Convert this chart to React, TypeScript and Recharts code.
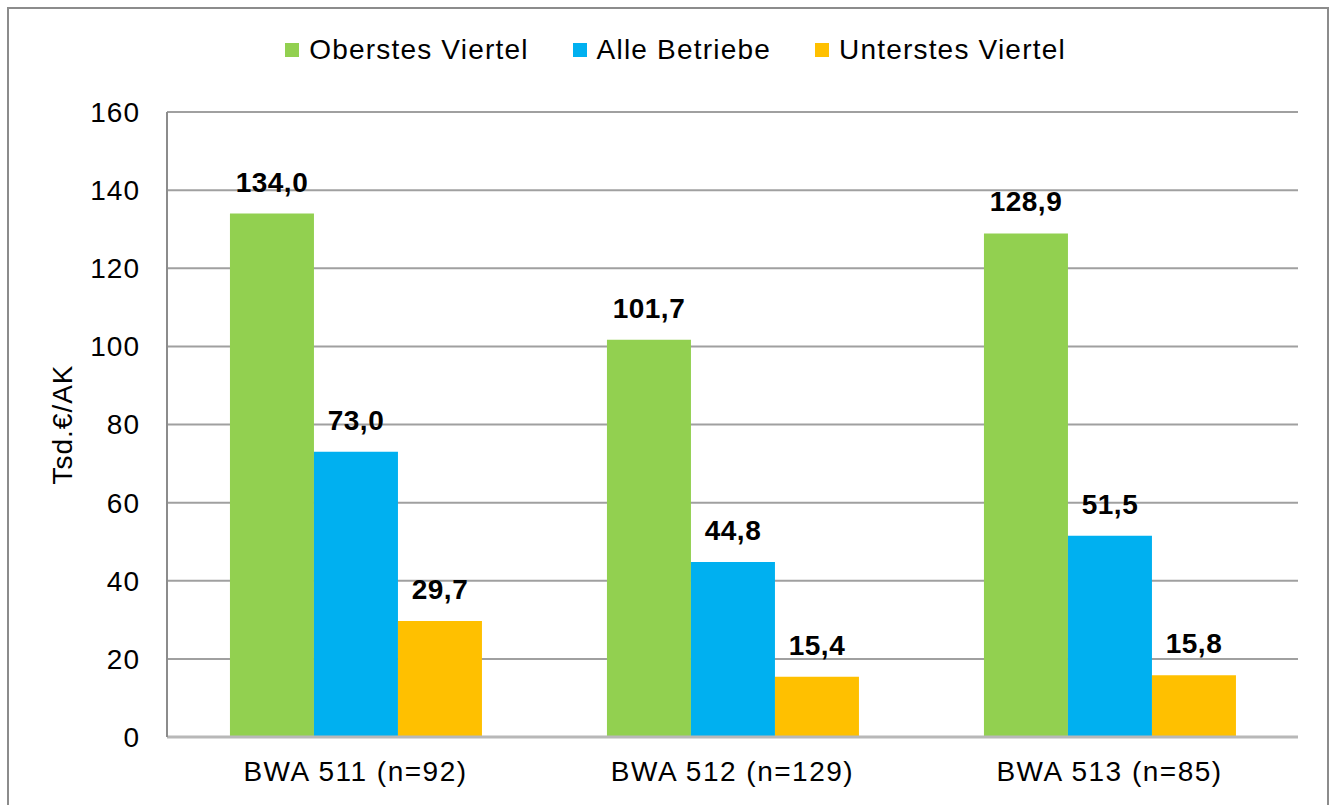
import { BarChart, Bar, XAxis, YAxis, CartesianGrid, Legend, LabelList } from 'recharts'

const categories = ['BWA 511 (n=92)', 'BWA 512 (n=129)', 'BWA 513 (n=85)']
const oberstesViertel = [134.0, 101.7, 128.9]
const alleBetriebe = [73.0, 44.8, 51.5]
const unterstesViertel = [29.7, 15.4, 15.8]
const yTicks = [0, 20, 40, 60, 80, 100, 120, 140, 160]

const FONT = '"Liberation Sans", Arial, sans-serif'

const data = categories.map((name, i) => ({
  name,
  top: oberstesViertel[i],
  all: alleBetriebe[i],
  bottom: unterstesViertel[i],
}))

const fmt = (v: any) => Number(v).toFixed(1).replace('.', ',')

function LegendRow({ payload }: any) {
  return (
    <div style={{ display: 'flex', justifyContent: 'center', gap: 44, fontFamily: FONT, fontSize: 28, letterSpacing: 1.2, color: '#000' }}>
      {(payload || []).map((p: any) => (
        <div key={p.value} style={{ display: 'flex', alignItems: 'center' }}>
          <span style={{ width: 14, height: 14, background: p.color, display: 'inline-block', marginRight: 10 }} />
          <span>{p.value}</span>
        </div>
      ))}
    </div>
  )
}

const labelStyle = { fontSize: 28, fontWeight: 'bold', fill: '#000', fontFamily: FONT, letterSpacing: 0.5 }

export default function App() {
  return (
    <div style={{ position: 'absolute', left: 0, top: 0, width: 1331, height: 805, overflow: 'hidden', background: '#fff' }}>
      <div style={{ position: 'absolute', left: 7, top: 7, width: 1318, height: 820, border: '2px solid #8c8c8c' }} />
      <div style={{ position: 'absolute', left: 0, top: 0 }}>
        <BarChart
          width={1331}
          height={805}
          data={data}
          margin={{ top: 112, right: 33, left: 37, bottom: 38 }}
          barCategoryGap="16.7%"
          barGap={0}
        >
          <CartesianGrid vertical={false} stroke="#a0a0a0" strokeWidth={2} />
          <XAxis
            dataKey="name"
            height={30}
            tickLine={false}
            tickSize={0}
            tickMargin={24}
            axisLine={{ stroke: '#b8b8b8', strokeWidth: 3 }}
            tick={{ fontSize: 28, fill: '#000', fontFamily: FONT, letterSpacing: 1.5 }}
          />
          <YAxis
            domain={[0, 160]}
            ticks={yTicks}
            width={130}
            tickLine={false}
            tickSize={0}
            tickMargin={27}
            axisLine={{ stroke: '#8c8c8c', strokeWidth: 2 }}
            tick={{ fontSize: 28, fill: '#000', fontFamily: FONT, letterSpacing: 1 }}
            label={{ value: 'Tsd.€/AK', angle: -90, position: 'insideLeft', offset: 25, style: { textAnchor: 'middle', fontSize: 28, fill: '#000', fontFamily: FONT, letterSpacing: 1 } }}
          />
          <Legend
            verticalAlign="middle"
            align="center"
            layout="horizontal"
            itemSorter={null}
            content={<LegendRow />}
            wrapperStyle={{ top: 34, left: 10, width: 1331, height: 40 }}
          />
          <Bar dataKey="top" name="Oberstes Viertel" fill="#92D050" isAnimationActive={false}>
            <LabelList dataKey="top" position="top" offset={22} formatter={fmt} style={labelStyle} />
          </Bar>
          <Bar dataKey="all" name="Alle Betriebe" fill="#00B0F0" isAnimationActive={false}>
            <LabelList dataKey="all" position="top" offset={22} formatter={fmt} style={labelStyle} />
          </Bar>
          <Bar dataKey="bottom" name="Unterstes Viertel" fill="#FFC000" isAnimationActive={false}>
            <LabelList dataKey="bottom" position="top" offset={22} formatter={fmt} style={labelStyle} />
          </Bar>
        </BarChart>
      </div>
    </div>
  )
}
